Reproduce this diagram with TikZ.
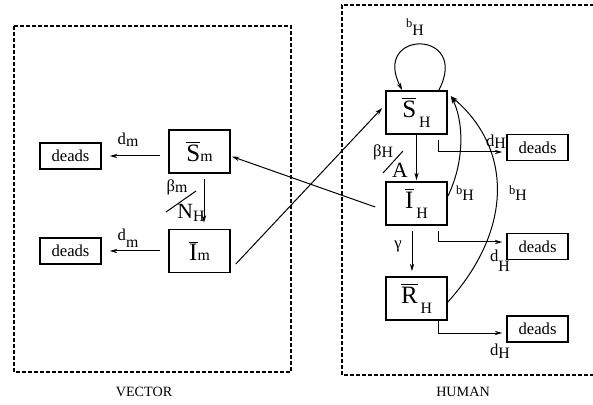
\documentclass[tikz,border=0pt]{standalone}
\usepackage{fontspec}
\setmainfont{Liberation Serif}
\usetikzlibrary{arrows.meta,calc}

% compartment names: bar over the letter, then the index
\newcommand{\cmpm}[1]{{\fontsize{15}{15}\selectfont$\overline{\hbox{#1}}$}{\fontsize{9.5}{9.5}\selectfont m}}
\newcommand{\cmpH}[1]{{\fontsize{15}{15}\selectfont$\overline{\hbox{#1}}$}\,\raisebox{-6pt}{\fontsize{9.5}{9.5}\selectfont H}}
\newcommand{\rate}[3]{#1\raisebox{-#3}{\fontsize{9.5}{9.5}\selectfont #2}}

\begin{document}
\begin{tikzpicture}[x=0.6pt, y=-0.6pt, every node/.style={font=\fontsize{10}{12}\selectfont, inner sep=0pt},
  comp/.style={draw, line width=1pt, minimum width=36.6pt, minimum height=25.8pt},
  sink/.style={draw, line width=1pt, minimum width=36.6pt, minimum height=15.6pt},
  flow/.style={-{Stealth[length=4.5pt,width=2.6pt]}, line width=0.6pt},
  zone/.style={line width=1.2pt, dash pattern=on 2.4pt off 1.2pt}]
  \useasboundingbox (0,0) rectangle (593,405);

  % the two populations
  \draw[zone] (14,26) rectangle (291,372);
  \draw[zone] (594,5) -| (342,375) -- (594,375);
  \node (vec) at (144,392) {\fontsize{8.5}{10}\selectfont VECTOR};
  \node (hum) at (463,392) {\fontsize{8.5}{10}\selectfont HUMAN};

  % vector side
  \node[comp] (Sm) at (199.5,151.5) {\cmpm{S}};
  \node[comp] (Im) at (199.5,251) {\cmpm{I}};
  \node[sink] (dSm) at (70.5,156) {deads};
  \node[sink] (dIm) at (70.5,251) {deads};

  \draw[flow, shorten <=4.8pt, shorten >=4.8pt] (Sm.west |- dSm) -- (dSm.east);
  \draw[flow, shorten <=4.8pt, shorten >=4.8pt] (Im.west) -- (dIm.east);
  \node (dm1) at (128,140) {\rate{d}{m}{1.2pt}};
  \node (dm2) at (128,238) {\rate{d}{m}{4pt}};

  \draw[flow] ($(Sm.south)+(4.5,5)$) -- ($(Im.north)+(4.5,-6)$);
  \node (bm) at (177,187) {β\rate{}{m}{1pt}};
  \node (NH) at (191,213) {\fontsize{13}{13}\selectfont N\rate{}{H}{1.5pt}};
  \draw[line width=0.6pt] (166,212) -- (196,191);

  % human side
  \node[comp] (SH) at (416.5,112.5) {\cmpH{S}};
  \node[comp] (IH) at (416.5,203.5) {\cmpH{I}};
  \node[comp] (RH) at (416.5,298.5) {\cmpH{R}};
  \node[sink] (dSH) at (537.5,147.5) {deads};
  \node[sink] (dIH) at (537.5,246.5) {deads};
  \node[sink] (dRH) at (537.5,329) {deads};

  \draw[flow] (SH.south) -- ($(IH.north)+(0,-1)$);
  \node (bH) at (383,152) {β\rate{}{H}{1pt}};
  \node (A) at (400,170) {\fontsize{13}{13}\selectfont A};
  \draw[line width=0.6pt] (383,173) -- (403,151);

  \draw[flow] ($(IH.south)+(-4.5,5)$) -- ($(RH.north)+(-4.5,-5)$);
  \node (gam) at (398,246) {γ};

  \draw[flow] ($(SH.south east)+(-9,5)$) |- ($(dSH.west)+(-4,4.5)$);
  \draw[flow] ($(IH.south east)+(-9,5)$) |- ($(dIH.west)+(-4,-4.5)$);
  \draw[flow] ($(RH.south east)+(-9,0)$) |- ($(dRH.west)+(-4,4)$);
  \node (dH1) at (496,142) {\rate{d}{H}{1pt}};
  \node (dH2) at (500,261) {\rate{d}{H}{6pt}};
  \node (dH3) at (500,351) {\rate{d}{H}{1.5pt}};

  % births back into S_H
  \draw[flow] ($(SH.north east)+(-9,0)$) .. controls +(32,-61) and +(-31,-61) .. ($(SH.north west)+(17,0)$);
  \draw[flow] ($(IH.north east)+(0,15)$) .. controls +(18,-37) and +(12,23) .. ($(SH.north east)+(3,6)$);
  \draw[flow] ($(RH.east)+(0,3.5)$) .. controls +(65,-72) and +(62,53) .. ($(SH.north east)+(3,6)$);
  \node (b1) at (415,27) {{\fontsize{7.5}{8}\selectfont b}\rate{}{H}{5pt}};
  \node (b2) at (465,193) {{\fontsize{7.5}{8}\selectfont b}\rate{}{H}{4pt}};
  \node (b3) at (518,193) {{\fontsize{7.5}{8}\selectfont b}\rate{}{H}{4pt}};

  % contacts between the populations
  \draw[flow] ($(IH.west)+(-10,3.5)$) -- ($(Sm.east)+(1,5)$);
  \draw[flow] ($(Im.east)+(5,13)$) -- ($(SH.west)+(-3,-4.5)$);
\end{tikzpicture}
\end{document}
